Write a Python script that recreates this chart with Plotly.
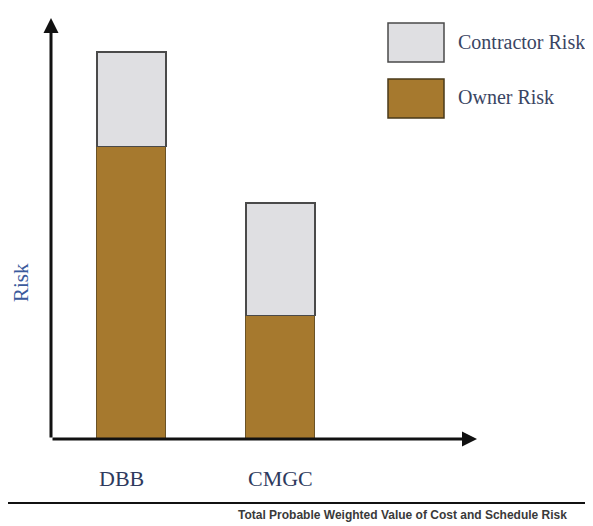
import plotly.graph_objects as go

# ---- data ----
categories = ["DBB", "CMGC"]
owner_risk = [75.5, 32.0]
contractor_risk = [24.5, 29.0]
series_names = ["Contractor Risk", "Owner Risk"]
y_title = "Risk"
footer_text = "Total Probable Weighted Value of Cost and Schedule Risk"

# ---- layout constants (page pixels; the plot div sits 8px in from the page corner) ----
OFF = 8
W, H = 593 - OFF, 526 - OFF
L, R, T, B = 51 - OFF, 116, 18 - OFF, 87
PW, PH = W - L - R, H - T - B

def px(xp):
    return (xp - OFF - L) / PW

def py(yp):
    return (H - B - (yp - OFF)) / PH

owner_color = "#a6792e"
contr_color = "#dfdfe2"
edge_color = "#4a4a4a"
bar_w = 0.463
x_idx = list(range(len(categories)))

fig = go.Figure()
fig.add_trace(go.Bar(x=x_idx, y=owner_risk, name=series_names[1], width=bar_w,
                     marker=dict(color=owner_color, line=dict(color="#6a5226", width=1)),
                     showlegend=False))
fig.add_trace(go.Bar(x=x_idx, y=contractor_risk, name=series_names[0], width=bar_w,
                     marker=dict(color=contr_color, line=dict(color=edge_color, width=1.2)),
                     showlegend=False))

annotations = []
# axis arrows
annotations.append(dict(x=1, y=0, xref="x domain", yref="y domain", ax=0, ay=0,
                        axref="x domain", ayref="y domain", showarrow=True, arrowhead=2,
                        arrowsize=1, arrowwidth=3, arrowcolor="#111", text=""))
annotations.append(dict(x=0, y=1, xref="x domain", yref="y domain", ax=0, ay=0,
                        axref="x domain", ayref="y domain", showarrow=True, arrowhead=2,
                        arrowsize=1, arrowwidth=3, arrowcolor="#111", text=""))
# category labels
for i, c in enumerate(categories):
    annotations.append(dict(x=i - bar_w / 2, y=py(478), xref="x", yref="paper",
                            text=c, showarrow=False, xanchor="left", yanchor="middle",
                            font=dict(family="Liberation Serif", size=22, color="#2e3a5e")))
# y title
annotations.append(dict(x=px(21), y=py(283), xref="paper", yref="paper", text=y_title,
                        showarrow=False, textangle=-90, xanchor="center", yanchor="middle",
                        font=dict(family="Liberation Serif", size=21, color="#3b5a9c")))
# legend text
legend_y = [42, 97]
for name, yy in zip(series_names, legend_y):
    annotations.append(dict(x=px(456), y=py(yy), xref="paper", yref="paper", text=name,
                            showarrow=False, xanchor="left", yanchor="middle",
                            font=dict(family="Liberation Serif", size=20, color="#3a4563")))
# footer
annotations.append(dict(x=px(236), y=py(515), xref="paper", yref="paper", text="<b>" + footer_text + "</b>",
                        showarrow=False, xanchor="left", yanchor="middle",
                        font=dict(family="Liberation Sans", size=12, color="#3a3a3a")))

shapes = [
    dict(type="rect", xref="paper", yref="paper", x0=px(388), x1=px(444), y0=py(62), y1=py(23),
         fillcolor=contr_color, line=dict(color=edge_color, width=1.5)),
    dict(type="rect", xref="paper", yref="paper", x0=px(388), x1=px(444), y0=py(118), y1=py(79),
         fillcolor=owner_color, line=dict(color="#4a3a1a", width=1.5)),
    dict(type="line", xref="paper", yref="paper", x0=px(7), x1=px(620), y0=py(503), y1=py(503),
         line=dict(color="#111", width=2)),
]

fig.update_layout(
    width=W, height=H, barmode="stack",
    margin=dict(l=L, r=R, t=T, b=B, autoexpand=False),
    paper_bgcolor="white", plot_bgcolor="white",
    xaxis=dict(range=[-0.540, 2.319], showticklabels=False, showgrid=False,
               zeroline=False, showline=False, ticks=""),
    yaxis=dict(range=[0, 108.8], showticklabels=False, showgrid=False,
               zeroline=False, showline=False, ticks=""),
    annotations=annotations, shapes=shapes, showlegend=False,
)

fig.write_html("out.html")
